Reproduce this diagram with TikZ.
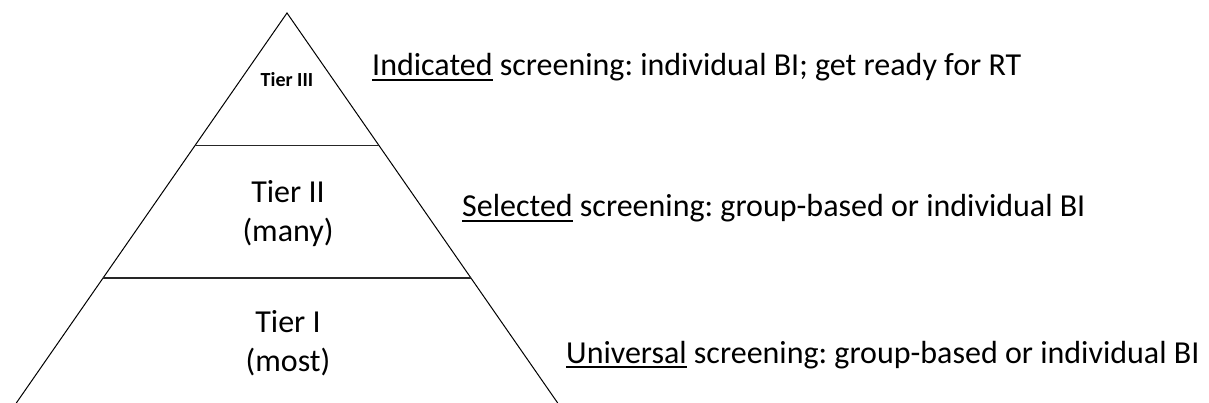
\documentclass[tikz,border=0pt]{standalone}
\usepackage{fontspec}
\setmainfont{Carlito}
\usetikzlibrary{calc}
\frenchspacing
\newcommand{\myul}[1]{\setbox0\hbox{#1}\rlap{\rule[-5pt]{\wd0}{2pt}}\box0\relax}
\tikzset{
  side/.style={line width=1pt, black},
  divider/.style={line width=1.6pt, black!85},
  tierlabel/.style={inner sep=0pt, align=center, anchor=base, font=\fontsize{32}{39}\selectfont},
  toplabel/.style={inner sep=0pt, anchor=base, font=\fontsize{20}{24}\selectfont\bfseries},
  desc/.style={inner sep=0pt, anchor=base west, font=\fontsize{32}{39}\selectfont}
}
\begin{document}
\begin{tikzpicture}[x=1pt,y=-1pt]
\useasboundingbox (0,0) rectangle (1209,403);
\coordinate (apex) at (287,13);
\coordinate (bl) at (16.3,403);
\coordinate (br) at (557.7,403);
\coordinate (l1) at ($(apex)!0.3397!(bl)$);
\coordinate (r1) at ($(apex)!0.3397!(br)$);
\coordinate (l2) at ($(apex)!0.6795!(bl)$);
\coordinate (r2) at ($(apex)!0.6795!(br)$);
\draw[side] (bl) -- (apex) -- (br);
\draw[divider] (l1) -- (r1);
\draw[divider] (l2) -- (r2);
\node[toplabel] (t3) at (287,87) {Tier III};
\node[tierlabel] (t2) at (288,242) {Tier II\\(many)};
\node[tierlabel] (t1) at (288,371) {Tier I\\(most)};
\node[desc] (d3) at (372,76) {\myul{Indicated} screening: individual BI; get ready for RT};
\node[desc] (d2) at (462,217) {\myul{Selected} screening: group-based or individual BI};
\node[desc] (d1) at (566,363) {\myul{Universal} screening: group-based or individual BI};
\end{tikzpicture}
\end{document}
